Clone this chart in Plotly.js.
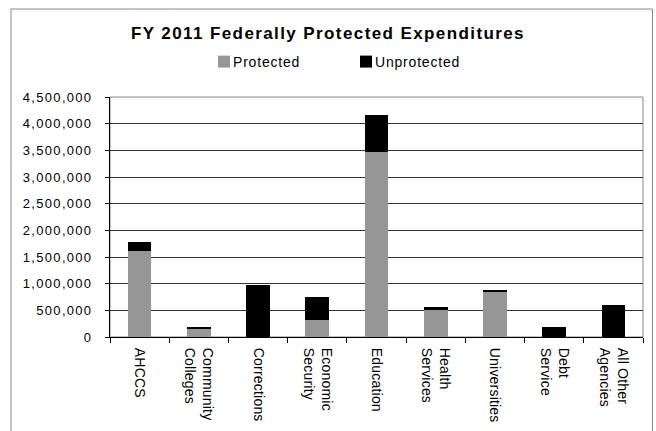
<!DOCTYPE html>
<html>
<head>
<meta charset="utf-8">
<script src="https://cdn.plot.ly/plotly-3.0.1.min.js"></script>
<style>
  html, body { margin: 0; padding: 0; background: #fff; }
  #chart { width: 656px; height: 431px; }
  .gtitle { letter-spacing: 1.4px; }
  .ytick text { letter-spacing: 1.3px; }
  .xtick text { letter-spacing: 0.2px; }
  .legendtext { letter-spacing: 0.8px; transform: translateX(-11px); }
</style>
</head>
<body>
<div id="chart"></div>
<script>
const categories = ["AHCCS", "Community<br>Colleges", "Corrections", "Economic<br>Security", "Education",
                    "Health<br>Services", "Universities", "Debt<br>Service", "All Other<br>Agencies"];
const protectedVals   = [1618000, 143000, 0, 311000, 3461000, 499000, 836000, 0, 0];
const unprotectedVals = [169000, 37000, 968000, 432000, 694000, 69000, 51000, 193000, 606000];
const yTickVals = [0, 500000, 1000000, 1500000, 2000000, 2500000, 3000000, 3500000, 4000000, 4500000];
const yTickText = ["0", "500,000", "1,000,000", "1,500,000", "2,000,000", "2,500,000", "3,000,000", "3,500,000", "4,000,000", "4,500,000"];

const fontFam = "'Liberation Sans', Arial, sans-serif";

const traces = [
  { type: "bar", name: "Protected", x: categories, y: protectedVals,
    marker: { color: "#969696", line: { width: 0 } }, hoverinfo: "skip" },
  { type: "bar", name: "Unprotected", x: categories, y: unprotectedVals,
    marker: { color: "#000000", line: { width: 0 } }, hoverinfo: "skip" }
];

const layout = {
  width: 656, height: 431,
  margin: { l: 110, r: 13, t: 97, b: 94, pad: 0 },
  paper_bgcolor: "#ffffff", plot_bgcolor: "#ffffff",
  barmode: "stack", bargap: 0.6,
  font: { family: fontFam, color: "#000", size: 13 },
  title: { text: "<b>FY 2011 Federally Protected Expenditures</b>",
           font: { family: fontFam, size: 17, color: "#000" },
           x: 0.5, xref: "container", xanchor: "center",
           y: 1 - 33 / 431, yref: "container", yanchor: "middle" },
  showlegend: true,
  legend: { orientation: "h", xref: "container", yref: "container",
            x: 204 / 656, xanchor: "left", y: 1 - 62 / 431, yanchor: "middle",
            font: { family: fontFam, size: 14, color: "#000" },
            entrywidth: 97, entrywidthmode: "pixels", traceorder: "normal",
            bgcolor: "rgba(0,0,0,0)" },
  xaxis: { type: "category", tickangle: 90, tickson: "boundaries",
           ticks: "outside", ticklen: 5, tickcolor: "#000", tickwidth: 1,
           showline: true, linecolor: "#000", linewidth: 1,
           showgrid: false, zeroline: false, ticklabelstandoff: 7,
           tickfont: { family: fontFam, size: 14, color: "#000" }, fixedrange: true },
  yaxis: { range: [0, 4500000], tickvals: yTickVals, ticktext: yTickText,
           ticks: "outside", ticklen: 4, tickcolor: "#000", tickwidth: 1,
           showline: true, linecolor: "#000", linewidth: 1,
           showgrid: true, gridcolor: "#333", gridwidth: 1, zeroline: false,
           ticklabelstandoff: 10,
           tickfont: { family: fontFam, size: 13, color: "#000" }, fixedrange: true },
  shapes: [
    { type: "rect", xref: "paper", yref: "paper", x0: 0, x1: 1, y0: 0, y1: 1,
      line: { color: "#888", width: 1 }, layer: "below" },
    { type: "rect", xref: "paper", yref: "paper", x0: (11 - 110) / 533, x1: (652.5 - 110) / 533,
      y0: -0.6, y1: (337 - 9) / 240, line: { color: "#888", width: 1 }, layer: "below" }
  ]
};

Plotly.newPlot("chart", traces, layout, { displayModeBar: false, staticPlot: true });
</script>
</body>
</html>
